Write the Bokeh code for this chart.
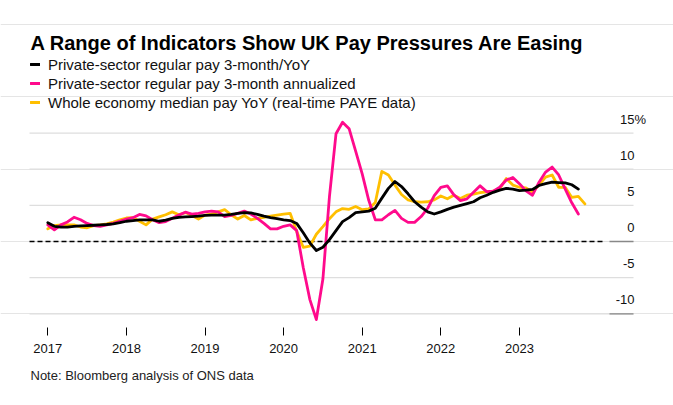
from bokeh.plotting import figure
from bokeh.models import (Range1d, FixedTicker, Label, LabelSet, Title,
                          ColumnDataSource, Legend, LegendItem)
from bokeh.core.properties import value
from bokeh.embed import file_html
from bokeh.resources import INLINE

# ---------------- data (monthly, starting Jan 2017) ----------------
years = [2017, 2018, 2019, 2020, 2021, 2022, 2023]
start_year = 2017

private_yoy = [
    2.6, 2.1, 2.0, 2.0, 2.1, 2.15, 2.2, 2.25, 2.3, 2.35, 2.45, 2.6,
    2.8, 2.9, 3.0, 3.0, 3.0, 2.8, 2.95, 3.2, 3.35, 3.4, 3.45, 3.5,
    3.6, 3.65, 3.65, 3.65, 3.75, 3.9, 4.0, 3.95, 3.75, 3.5, 3.3, 3.15,
    3.0, 2.9, 2.5, 1.2, -0.2, -1.25, -0.8, 0.25, 1.5, 2.75, 3.3, 4.0,
    4.1, 4.2, 4.6, 6.0, 7.35, 8.3, 7.6, 6.6, 5.5, 4.75, 4.1, 3.8,
    4.1, 4.45, 4.75, 5.0, 5.25, 5.5, 6.05, 6.4, 6.8, 7.1, 7.35, 7.25,
    7.05, 7.1, 7.2, 7.75, 8.0, 8.2, 8.15, 8.1, 7.85, 7.25,
]

private_3m_ann = [
    2.3, 1.6, 2.3, 2.7, 3.35, 3.0, 2.5, 2.2, 2.1, 2.3, 2.5, 2.8,
    3.1, 3.3, 3.75, 3.55, 3.0, 2.6, 2.75, 3.2, 3.65, 4.05, 3.8, 3.9,
    4.1, 4.2, 4.1, 3.45, 3.6, 3.9, 4.2, 3.8, 3.2, 2.5, 1.75, 1.75,
    2.1, 2.3, 1.5, -3.6, -8.0, -10.8, -5.2, 6.2, 14.9, 16.5, 15.6, 12.5,
    9.35, 5.7, 3.0, 3.0, 3.7, 4.3, 3.2, 2.65, 2.65, 3.45, 4.6, 6.35,
    7.5, 7.7, 6.45, 5.65, 5.9, 6.8, 7.7, 6.9, 6.95, 7.5, 8.5, 8.85,
    8.0, 7.0, 6.4, 8.2, 9.6, 10.3, 9.2, 7.25, 5.35, 3.8,
]

paye_median_yoy = [
    1.75, 2.2, 2.3, 2.3, 2.3, 2.0, 1.9, 2.2, 2.3, 2.45, 2.7, 3.0,
    3.25, 3.3, 2.8, 2.3, 3.1, 3.4, 3.7, 4.1, 3.7, 4.0, 3.6, 3.1,
    3.65, 3.8, 4.1, 4.4, 3.7, 3.1, 3.6, 3.0, 3.2, 3.35, 3.5, 3.65,
    3.8, 3.9, 1.4, -0.8, -0.65, 1.0, 2.05, 3.15, 4.1, 4.55, 4.45, 4.85,
    4.4, 4.5, 5.4, 9.7, 9.2, 7.8, 6.5, 5.75, 5.5, 5.45, 5.5, 5.75,
    6.3, 5.9, 6.4, 5.95, 6.4, 6.55, 6.75, 6.85, 6.95, 7.3, 8.7, 7.8,
    7.5, 7.4, 6.85, 7.85, 8.9, 9.2, 7.5, 7.5, 6.1, 6.25, 5.2,
]

ytick_vals = [15, 10, 5, 0, -5, -10]
ytick_labels = ["15", "10", "5", "0", "-5", "-10"]
stub_vals = [0, -10]

series_names = [
    "Private-sector regular pay 3-month/YoY",
    "Private-sector regular pay 3-month annualized",
    "Whole economy median pay YoY (real-time PAYE data)",
]

title_text = "A Range of Indicators Show UK Pay Pressures Are Easing"
note_text = "Note: Bloomberg analysis of ONS data"

# ---------------- layout helpers (page pixel -> data) ----------------
W, H = 673, 405
FRAME_BOTTOM_PX = 327
X_ORIGIN_PX, PX_PER_YEAR = 47.3, 78.6
Y_ORIGIN_PX, PX_PER_UNIT = 241.0, 7.23


def px2x(px):
    return start_year + (px - X_ORIGIN_PX) / PX_PER_YEAR


def px2y(py):
    return (Y_ORIGIN_PX - py) / PX_PER_UNIT


FONT = "Liberation Sans"
BLACK = "#000000"
PINK = "#ff0a8c"
YELLOW = "#ffbf00"
GRID = "#dedede"
TXT = "#111111"


def months_x(vals):
    return [start_year + i / 12.0 for i in range(len(vals))]


p = figure(
    width=W, height=H,
    x_range=Range1d(px2x(0), px2x(W)),
    y_range=Range1d(px2y(FRAME_BOTTOM_PX), px2y(0)),
    min_border_left=0, min_border_right=0,
    min_border_top=0, min_border_bottom=H - FRAME_BOTTOM_PX,
    y_axis_location=None,
    toolbar_location=None, output_backend="svg",
)
p.outline_line_color = None
p.background_fill_color = "white"
p.border_fill_color = "white"
p.xgrid.visible = False

# horizontal gridlines
n = len(ytick_vals)
p.segment(x0=[px2x(29)] * n, y0=ytick_vals, x1=[px2x(633)] * n, y1=ytick_vals,
          line_color=GRID, line_width=1.2)

# zero reference line (dashed) and darker axis stubs
p.segment(x0=[px2x(29)], y0=[0], x1=[px2x(602)], y1=[0],
          line_color="black", line_width=1.3, line_dash="5 3")
p.segment(x0=[px2x(609)] * len(stub_vals), y0=stub_vals,
          x1=[px2x(633)] * len(stub_vals), y1=stub_vals,
          line_color="#888888", line_width=1.3)

# x axis
ax = p.xaxis[0]
ax.ticker = FixedTicker(ticks=years)
ax.axis_line_color = None
ax.major_tick_line_color = "black"
ax.major_tick_line_width = 1
ax.major_tick_out = 8
ax.major_tick_in = 0
ax.minor_tick_line_color = None
ax.major_label_standoff = 8
ax.major_label_text_font = FONT
ax.major_label_text_font_size = "13px"
ax.major_label_text_color = TXT

# series
r_y = p.line(months_x(paye_median_yoy), paye_median_yoy, line_color=YELLOW,
             line_width=2.8, line_join="round", line_cap="round")
r_p = p.line(months_x(private_3m_ann), private_3m_ann, line_color=PINK,
             line_width=2.8, line_join="round", line_cap="round")
r_b = p.line(months_x(private_yoy), private_yoy, line_color=BLACK,
             line_width=2.8, line_join="round", line_cap="round")

# y labels (above gridlines, right side)
lab_src = ColumnDataSource(dict(
    x=[px2x(634)] * n,
    y=[v + 14 / PX_PER_UNIT for v in ytick_vals],
    text=ytick_labels,
))
p.add_layout(LabelSet(x="x", y="y", text="text", source=lab_src,
                      text_align="right", text_baseline="middle",
                      text_font=value(FONT), text_font_size=value("13px"),
                      text_color=TXT))
p.add_layout(Label(x=px2x(634), y=ytick_vals[0] + 14 / PX_PER_UNIT, text="%",
                   text_align="left", text_baseline="middle",
                   text_font=FONT, text_font_size="13px", text_color=TXT))

# title
p.add_layout(Label(x=px2x(30), y=px2y(42), text=title_text,
                   text_align="left", text_baseline="middle",
                   text_font=FONT, text_font_style="bold",
                   text_font_size="20px", text_color="black"))

# note (below the axis)
note = Title(text=note_text, align="left", offset=30, standoff=20,
             text_font=FONT, text_font_size="13px", text_font_style="normal",
             text_color="#222222")
p.add_layout(note, "below")

# legend
legend = Legend(
    items=[LegendItem(label=series_names[0], renderers=[r_b]),
           LegendItem(label=series_names[1], renderers=[r_p]),
           LegendItem(label=series_names[2], renderers=[r_y])],
    location=(30, 216),
    orientation="vertical",
    label_text_font=FONT, label_text_font_size="15px",
    label_text_color=TXT,
    glyph_width=10, glyph_height=18, label_height=18,
    label_standoff=8, spacing=1, padding=0, margin=0,
    border_line_color=None, background_fill_alpha=0,
)
p.add_layout(legend)

open("out.html", "w").write(file_html(p, INLINE))
